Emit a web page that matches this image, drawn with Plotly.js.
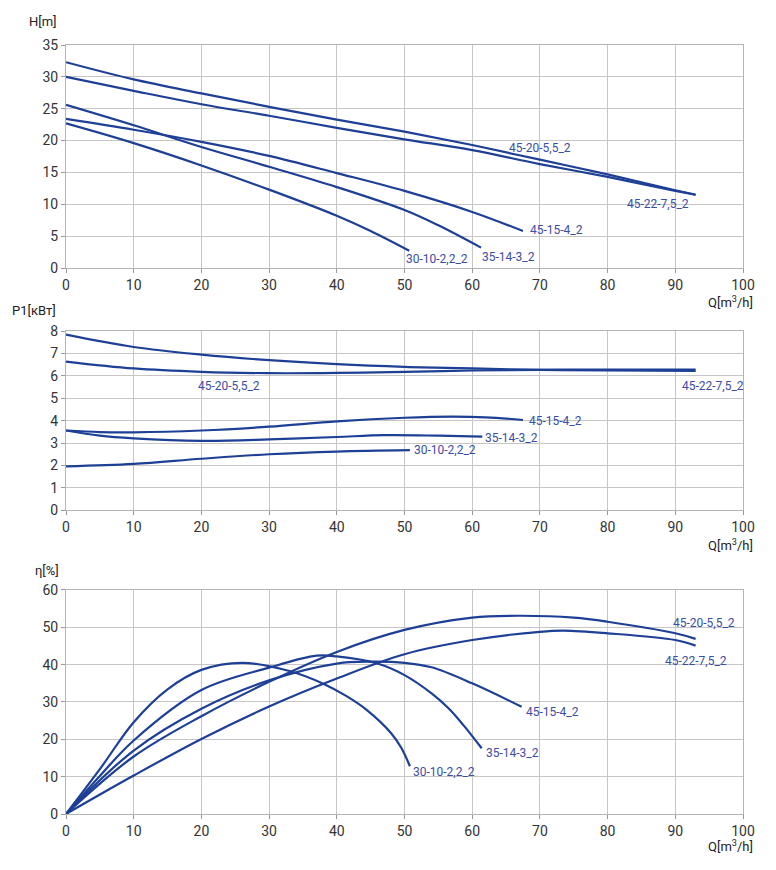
<!DOCTYPE html>
<html>
<head>
<meta charset="utf-8">
<script src="https://cdn.plot.ly/plotly-3.0.1.min.js"></script>
<style>
  html, body { margin: 0; padding: 0; background: #fff; }
  #chart { width: 776px; height: 870px; }
</style>
</head>
<body>
<div id="chart"></div>
<script>
'use strict';

// pump names, same order in every panel
var pumps = ['45-22-7,5_2', '45-20-5,5_2', '45-15-4_2', '35-14-3_2', '30-10-2,2_2'];

// head H[m]
var qH1 = [0, 10, 20, 30, 40, 50, 60, 70, 80, 90, 93];
var h1 = [32.3, 29.6, 27.4, 25.3, 23.3, 21.4, 19.3, 17.0, 14.7, 12.2, 11.5];
var qH2 = [0, 10, 20, 30, 40, 50, 60, 70, 80, 90, 93];
var h2 = [30.0, 27.8, 25.7, 23.9, 22.0, 20.2, 18.5, 16.3, 14.3, 12.1, 11.5];
var qH3 = [0, 10, 20, 30, 40, 50, 60, 67.5];
var h3 = [23.4, 21.7, 19.8, 17.6, 14.9, 12.1, 8.8, 5.8];
var qH4 = [0, 10, 20, 30, 40, 50, 55, 61.3];
var h4 = [25.6, 22.4, 19.0, 15.9, 12.7, 9.1, 6.7, 3.2];
var qH5 = [0, 10, 20, 30, 40, 45, 50.7];
var h5 = [22.7, 19.6, 16.1, 12.3, 8.2, 5.8, 2.7];

// power P1[kW]
var qP1 = [0, 10, 20, 30, 40, 50, 60, 70, 80, 93];
var p1 = [7.84, 7.29, 6.95, 6.70, 6.52, 6.40, 6.33, 6.27, 6.24, 6.22];
var qP2 = [0, 10, 20, 30, 40, 50, 60, 70, 80, 93];
var p2 = [6.64, 6.33, 6.18, 6.12, 6.13, 6.18, 6.24, 6.27, 6.28, 6.28];
var qP3 = [0, 5, 10, 20, 30, 40, 50, 57, 62, 67.5];
var p3 = [3.56, 3.49, 3.48, 3.56, 3.73, 3.97, 4.13, 4.18, 4.15, 4.03];
var qP4 = [0, 5, 10, 20, 30, 40, 47, 55, 61.5];
var p4 = [3.56, 3.33, 3.21, 3.10, 3.16, 3.27, 3.35, 3.33, 3.29];
var qP5 = [0, 10, 20, 30, 40, 50.8];
var p5 = [1.96, 2.07, 2.30, 2.50, 2.62, 2.68];

// efficiency eta[%]
var qE1 = [0, 10, 20, 30, 40, 50, 60, 70, 73.5, 80, 90, 93];
var e1 = [0, 10.3, 20.1, 28.8, 36.3, 42.8, 46.6, 48.8, 49.1, 48.4, 46.6, 45.1];
var qE2 = [0, 10, 20, 30, 40, 50, 60, 67, 75, 80, 90, 93];
var e2 = [0, 15.4, 26.2, 35.4, 43.4, 49.3, 52.6, 53.1, 52.6, 51.5, 48.4, 46.9];
var qE3 = [0, 10, 20, 30, 40, 45, 50, 54, 60, 67.3];
var e3 = [0, 17.0, 28.2, 35.8, 40.3, 40.8, 40.5, 39.3, 35.0, 28.7];
var qE4 = [0, 5, 10, 20, 30, 37, 40, 46, 50, 54, 56.5, 58.7, 61.4];
var e4 = [0, 10.2, 19.7, 33.2, 39.2, 42.4, 42.2, 40.3, 37.2, 32.3, 28.3, 23.8, 17.6];
var qE5 = [0, 5, 10, 15, 20, 26, 33, 38, 41.5, 44.4, 48, 49.5, 50.8];
var e5 = [0, 12.0, 24.6, 33.4, 38.6, 40.5, 38.3, 34.9, 31.5, 27.9, 21.7, 17.8, 12.8];

var lineColor = '#1d3f95';
var labelColor = '#3a4ca4';

function curve(x, y, name, xa, ya) {
	return {
		x: x,
		y: y,
		name: name,
		xaxis: xa,
		yaxis: ya,
		type: 'scatter',
		mode: 'lines',
		line: { color: lineColor, width: 2.2, shape: 'spline', smoothing: 1 },
		hoverinfo: 'none',
	};
}

var traces = [
	curve(qH1, h1, pumps[0], 'x', 'y'),
	curve(qH2, h2, pumps[1], 'x', 'y'),
	curve(qH3, h3, pumps[2], 'x', 'y'),
	curve(qH4, h4, pumps[3], 'x', 'y'),
	curve(qH5, h5, pumps[4], 'x', 'y'),
	curve(qP1, p1, pumps[0], 'x2', 'y2'),
	curve(qP2, p2, pumps[1], 'x2', 'y2'),
	curve(qP3, p3, pumps[2], 'x2', 'y2'),
	curve(qP4, p4, pumps[3], 'x2', 'y2'),
	curve(qP5, p5, pumps[4], 'x2', 'y2'),
	curve(qE1, e1, pumps[0], 'x3', 'y3'),
	curve(qE2, e2, pumps[1], 'x3', 'y3'),
	curve(qE3, e3, pumps[2], 'x3', 'y3'),
	curve(qE4, e4, pumps[3], 'x3', 'y3'),
	curve(qE5, e5, pumps[4], 'x3', 'y3'),
];

// curve name labels, placed next to the curve ends
function label(text, x, y, xa, ya) {
	return {
		text: text, x: x, y: y, xref: xa, yref: ya,
		showarrow: false, xanchor: 'center', yanchor: 'middle',
		font: { family: 'Roboto, sans-serif', size: 12, color: labelColor },
	};
}

// axis titles drawn as plain text
function axisText(text, x, y, xanchor) {
	return {
		text: text, x: x, y: y, xref: 'paper', yref: 'paper',
		showarrow: false, xanchor: xanchor, yanchor: 'middle',
		font: { family: 'Roboto, sans-serif', size: 13, color: '#222' },
	};
}

var annotations = [
	label(pumps[1], 70, 18.8, 'x', 'y'),
	label(pumps[0], 87.4, 10.0, 'x', 'y'),
	label(pumps[2], 72.5, 6.0, 'x', 'y'),
	label(pumps[3], 65.3, 1.7, 'x', 'y'),
	label(pumps[4], 54.8, 1.4, 'x', 'y'),
	label(pumps[1], 24.1, 5.54, 'x2', 'y2'),
	label(pumps[0], 95.6, 5.54, 'x2', 'y2'),
	label(pumps[2], 72.3, 4.0, 'x2', 'y2'),
	label(pumps[3], 65.8, 3.22, 'x2', 'y2'),
	label(pumps[4], 56, 2.67, 'x2', 'y2'),
	label(pumps[1], 94.3, 51.2, 'x3', 'y3'),
	label(pumps[0], 93.1, 41.1, 'x3', 'y3'),
	label(pumps[2], 71.9, 27.2, 'x3', 'y3'),
	label(pumps[3], 65.9, 16.3, 'x3', 'y3'),
	label(pumps[4], 55.8, 11.3, 'x3', 'y3'),
	axisText('H[m]', -0.058, 1.031, 'left'),
	axisText('P1[кВт]', -0.083, 0.655, 'left'),
	axisText('η[%]', -0.049, 0.316, 'left'),
	axisText('Q[m<sup>3</sup>/h]', 1.018, 0.666, 'right'),
	axisText('Q[m<sup>3</sup>/h]', 1.018, 0.350, 'right'),
	axisText('Q[m<sup>3</sup>/h]', 1.018, -0.042, 'right'),
];

function xAxis(anchor) {
	return {
		anchor: anchor,
		domain: [0, 1],
		range: [0, 100],
		dtick: 10,
		tick0: 0,
		showgrid: true,
		gridcolor: '#c6c6c6',
		gridwidth: 1,
		zeroline: false,
		showline: true,
		mirror: true,
		linecolor: '#b4b4b4',
		ticks: 'outside',
		ticklen: 4,
		tickcolor: '#999',
		tickfont: { family: 'Roboto, sans-serif', size: 14, color: '#333' },
		fixedrange: true,
	};
}

function yAxis(anchor, domain, max, step) {
	return {
		anchor: anchor,
		domain: domain,
		range: [0, max],
		dtick: step,
		tick0: 0,
		showgrid: true,
		gridcolor: '#c6c6c6',
		gridwidth: 1,
		zeroline: false,
		showline: true,
		mirror: true,
		linecolor: '#b4b4b4',
		ticks: 'outside',
		ticklen: 4,
		tickcolor: '#999',
		tickfont: { family: 'Roboto, sans-serif', size: 14, color: '#333' },
		fixedrange: true,
	};
}

var layout = {
	width: 776,
	height: 870,
	margin: { l: 66, r: 33, t: 45, b: 56, pad: 0 },
	showlegend: false,
	paper_bgcolor: '#fff',
	plot_bgcolor: '#fff',
	font: { family: 'Roboto, sans-serif' },
	xaxis: xAxis('y'),
	yaxis: yAxis('x', [0.710, 1.0], 35, 5),
	xaxis2: xAxis('y2'),
	yaxis2: yAxis('x2', [0.395, 0.628], 8, 1),
	xaxis3: xAxis('y3'),
	yaxis3: yAxis('x3', [0, 0.2913], 60, 10),
	annotations: annotations,
};

Plotly.newPlot('chart', traces, layout, { staticPlot: true });
</script>
</body>
</html>
